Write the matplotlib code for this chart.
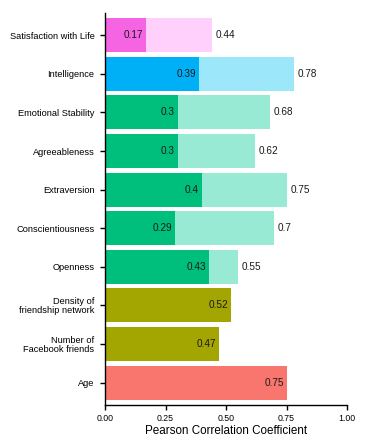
import numpy as np
import matplotlib
matplotlib.use("Agg")
import matplotlib.pyplot as plt

plt.rcParams['font.family'] = ['Liberation Sans', 'DejaVu Sans']

# categories from top to bottom
traits = ["Satisfaction with Life", "Intelligence", "Emotional Stability",
          "Agreeableness", "Extraversion", "Conscientiousness", "Openness",
          "Density of\nfriendship network", "Number of\nFacebook friends", "Age"]
# inner (dark) bar values
inner_r = [0.17, 0.39, 0.3, 0.3, 0.4, 0.29, 0.43, 0.52, 0.47, 0.75]
# outer (light) bar values, None where there is no second bar
outer_r = [0.44, 0.78, 0.68, 0.62, 0.75, 0.7, 0.55, None, None, None]

dark_cols = ["#F564E3", "#00B0F6", "#00BF7D", "#00BF7D", "#00BF7D",
             "#00BF7D", "#00BF7D", "#A3A500", "#A3A500", "#F8766D"]
light_cols = ["#FFD0FB", "#9DE7FB", "#99EAD5", "#99EAD5", "#99EAD5",
              "#99EAD5", "#99EAD5", None, None, None]

fig = plt.figure(figsize=(3.7, 4.44), dpi=100)
ax = fig.add_axes([0.284, 0.088, 0.654, 0.883])

y = np.arange(len(traits))[::-1]

for yi, v, c in zip(y, outer_r, light_cols):
    if v is None:
        continue
    ax.barh(yi, v, height=0.88, color=c, edgecolor='none')
    ax.text(v + 0.015, yi, f"{v:g}", ha='left', va='center', fontsize=7.2, color='#1a1a1a')

for yi, v, c in zip(y, inner_r, dark_cols):
    ax.barh(yi, v, height=0.88, color=c, edgecolor='none')
    ax.text(v - 0.012, yi, f"{v:g}", ha='right', va='center', fontsize=7.2, color='#1a1a1a')

ax.set_xlim(0, 1.0)
ax.set_ylim(-0.58, len(traits) - 0.42)
ax.set_yticks(y)
ax.set_yticklabels(traits, fontsize=6.7, linespacing=1.0)
ax.set_xticks([0, 0.25, 0.5, 0.75, 1.0])
ax.set_xticklabels(["0.00", "0.25", "0.50", "0.75", "1.00"], fontsize=6.3)
ax.set_xlabel("Pearson Correlation Coefficient", fontsize=8.4, labelpad=1)

for s in ['top', 'right']:
    ax.spines[s].set_visible(False)
for s in ['left', 'bottom']:
    ax.spines[s].set_linewidth(1.0)
ax.tick_params(axis='both', length=3.6, width=1.0, color='black')
ax.tick_params(axis='x', pad=3.2)
ax.tick_params(axis='y', pad=4)

fig.savefig("out.png", dpi=100)
